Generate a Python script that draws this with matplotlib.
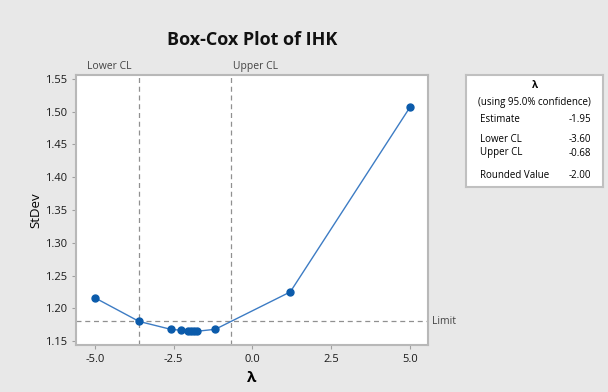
import matplotlib
matplotlib.use("Agg")
import matplotlib.pyplot as plt

lam = [-5.0, -3.6, -2.6, -2.28, -2.05, -1.95, -1.85, -1.75, -1.18, 1.2, 5.0]
stdev = [1.216, 1.180, 1.168, 1.1665, 1.165, 1.165, 1.165, 1.165, 1.168, 1.225, 1.507]
lower_cl = -3.60
upper_cl = -0.68
limit = 1.180
estimate = -1.95
rounded = -2.00
xticks = [-5.0, -2.5, 0.0, 2.5, 5.0]
yticks = [1.15, 1.20, 1.25, 1.30, 1.35, 1.40, 1.45, 1.50, 1.55]

plt.rcParams['font.family'] = ['Open Sans', 'DejaVu Sans']

W, H = 608, 392
fig = plt.figure(figsize=(W/100, H/100), dpi=100, facecolor='#e8e8e8')
ax = fig.add_axes([76/W, 1-345/H, (428-76)/W, (345-75)/H])
ax.set_facecolor('white')

ax.plot(lam, stdev, color='#3d7cc4', lw=1.0, marker='o', ms=5,
        mfc='#0b5bab', mec='#0b5bab', zorder=3)
ax.axvline(lower_cl, color='#909090', ls=(0, (4, 3)), lw=0.9)
ax.axvline(upper_cl, color='#909090', ls=(0, (4, 3)), lw=0.9)
ax.axhline(limit, color='#909090', ls=(0, (4, 3)), lw=0.9)

ax.set_xlim(-5.6, 5.57)
ax.set_ylim(1.144, 1.556)
ax.set_xticks(xticks)
ax.set_xticklabels([f"{v:.1f}" for v in xticks])
ax.set_yticks(yticks)
ax.set_yticklabels([f"{v:.2f}" for v in yticks])
ax.tick_params(axis='both', labelsize=8, labelcolor='#1a1a1a', length=3, width=0.8,
               color='#a0a0a0')
for s in ax.spines.values():
    s.set_color('#b8b8b8')
    s.set_linewidth(1.5)

ax.set_xlabel('λ', fontsize=11, fontweight='bold', labelpad=4)
ax.set_ylabel('StDev', fontsize=9.5, labelpad=2)

fig.text(252/W, 1-40/H, 'Box-Cox Plot of IHK', ha='center', va='center',
         fontsize=13, fontweight='bold', color='#111111')

ax.text(lower_cl - 0.25, 1.01, 'Lower CL', transform=ax.get_xaxis_transform(),
        ha='right', va='bottom', fontsize=7.5, color='#444444')
ax.text(upper_cl + 0.05, 1.01, 'Upper CL', transform=ax.get_xaxis_transform(),
        ha='left', va='bottom', fontsize=7.5, color='#444444')
ax.text(1.012, limit, 'Limit', transform=ax.get_yaxis_transform(),
        ha='left', va='center', fontsize=7.5, color='#444444')

# info box
bx = fig.add_axes([466/W, 1-187/H, (603-466)/W, (187-75)/H])
bx.set_xticks([]); bx.set_yticks([])
bx.set_facecolor('white')
for s in bx.spines.values():
    s.set_color('#c0c0c0'); s.set_linewidth(1.5)
bx.set_xlim(0, 137); bx.set_ylim(112, 0)
fs = 7
bx.text(68.5, 10, 'λ', ha='center', va='center', fontsize=fs, fontweight='bold')
bx.text(68.5, 27, '(using 95.0% confidence)', ha='center', va='center', fontsize=fs)
rows = [('Estimate', estimate, 45), ('Lower CL', lower_cl, 65),
        ('Upper CL', upper_cl, 78), ('Rounded Value', rounded, 100)]
for name, val, y in rows:
    bx.text(14, y, name, ha='left', va='center', fontsize=fs)
    bx.text(125, y, f"{val:.2f}", ha='right', va='center', fontsize=fs)

fig.savefig('out.png', dpi=100, facecolor=fig.get_facecolor())
